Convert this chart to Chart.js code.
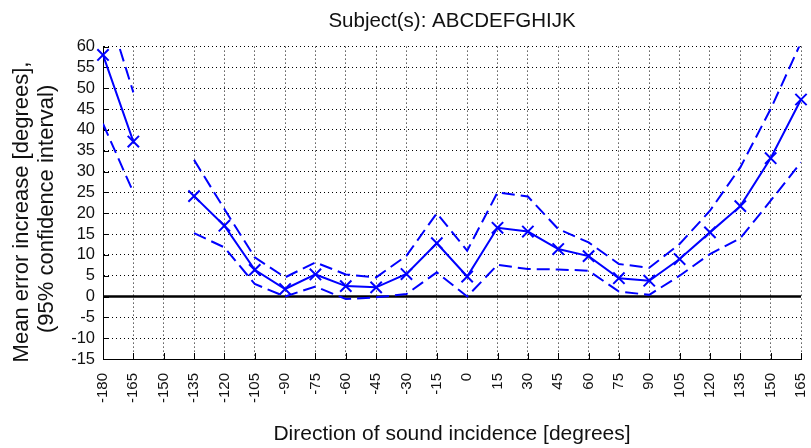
<!DOCTYPE html>
<html lang="en">
<head>
    <meta charset="UTF-8">
    <title>Mean error increase</title>
    <style>
        html, body { margin: 0; padding: 0; background: #fff; }
        #wrap { width: 811px; height: 448px; }
    </style>
</head>
<body>
    <div id="wrap"><canvas id="chartContainer" width="811" height="448"></canvas></div>
<script src="https://cdn.jsdelivr.net/npm/chart.js"></script>
<script>
// directions in degrees
const directions = ['-180', '-165', '-150', '-135', '-120', '-105', '-90', '-75', '-60', '-45', '-30', '-15',
    '0', '15', '30', '45', '60', '75', '90', '105', '120', '135', '150', '165'];

// mean error increase and 95% confidence bounds (null = no data)
const meanIncrease = [58, 37.2, null, 24.1, 17, 6.4, 1.8, 5.3, 2.5, 2.2, 5.4, 12.8,
    4.8, 16.5, 15.6, 11.4, 9.7, 4.4, 3.8, 9.0, 15.4, 21.7, 33.2, 47.3];
const upperBound = [72.5, 49, null, 32.8, 21, 9.4, 4.6, 8.2, 5.3, 4.6, 9.8, 20,
    11, 25, 24, 16.2, 13, 7.8, 6.9, 12.6, 20.6, 31, 45, 61];
const lowerBound = [41.5, 25, null, 15.2, 11.8, 3, 0, 2.4, -0.6, -0.2, 0.6, 5.8,
    0, 7.6, 6.6, 6.5, 6.2, 1.2, 0.4, 5, 10.2, 14, 23, 32.2];

const yMin = -15, yMax = 60, yStep = 5;

document.addEventListener('DOMContentLoaded', function() {
    const ctx = document.getElementById('chartContainer').getContext('2d');
    const blue = '#0000ff';
    const fontFamily = '"Liberation Sans", Arial, Helvetica, sans-serif';

    // black zero line + MATLAB style inward tick marks
    const axisExtras = {
        id: 'axisExtras',
        beforeDatasetsDraw(chart) {
            const {ctx, chartArea, scales: {x, y}} = chart;
            ctx.save();
            ctx.strokeStyle = '#000';
            ctx.lineWidth = 1;
            ctx.beginPath();
            x.ticks.forEach((t, i) => {
                const px = Math.round(x.getPixelForTick(i)) + 0.5;
                ctx.moveTo(px, chartArea.bottom);
                ctx.lineTo(px, chartArea.bottom - 6);
            });
            y.ticks.forEach((t, i) => {
                const py = Math.round(y.getPixelForTick(i)) + 0.5;
                ctx.moveTo(chartArea.left, py);
                ctx.lineTo(chartArea.left + 6, py);
            });
            ctx.stroke();
            const y0 = y.getPixelForValue(0);
            ctx.lineWidth = 2.5;
            ctx.beginPath();
            ctx.moveTo(chartArea.left, y0);
            ctx.lineTo(chartArea.right, y0);
            ctx.stroke();
            ctx.restore();
        }
    };

    const bound = (data) => ({
        data: data,
        borderColor: blue,
        borderWidth: 2,
        borderDash: [13, 6],
        pointRadius: 0,
        fill: false,
        tension: 0,
        clip: 0
    });

    new Chart(ctx, {
        type: 'line',
        data: {
            labels: directions,
            datasets: [
                {
                    data: meanIncrease,
                    borderColor: blue,
                    borderWidth: 2,
                    pointStyle: 'crossRot',
                    pointRadius: 8,
                    pointBorderWidth: 2,
                    pointBorderColor: blue,
                    fill: false,
                    tension: 0,
                    clip: false
                },
                bound(upperBound),
                bound(lowerBound)
            ]
        },
        options: {
            responsive: false,
            animation: false,
            layout: { padding: { left: 0, right: 10, top: 0, bottom: 0 } },
            plugins: {
                legend: { display: false },
                tooltip: { enabled: false },
                title: {
                    display: true,
                    fullSize: false,
                    text: 'Subject(s): ABCDEFGHIJK',
                    color: '#111',
                    font: { family: fontFamily, size: 20.5, weight: 'normal' },
                    padding: { top: 9, bottom: 13 }
                }
            },
            scales: {
                x: {
                    type: 'category',
                    offset: false,
                    grid: { color: '#000', lineWidth: 1, drawTicks: false },
                    border: { display: true, color: '#000', width: 1, dash: [1, 3] },
                    ticks: {
                        autoSkip: false,
                        maxRotation: 90,
                        minRotation: 90,
                        padding: 14,
                        color: '#111',
                        font: { family: fontFamily, size: 15 }
                    },
                    title: {
                        display: true,
                        text: 'Direction of sound incidence [degrees]',
                        color: '#111',
                        font: { family: fontFamily, size: 21 },
                        padding: { top: 0, bottom: 1 }
                    },
                    afterFit: (s) => { s.height = 89; s.paddingLeft = 0; s.paddingRight = 0; }
                },
                y: {
                    min: yMin,
                    max: yMax,
                    grid: { color: '#000', lineWidth: 1, drawTicks: false },
                    border: { display: true, color: '#000', width: 1, dash: [1, 3] },
                    ticks: {
                        stepSize: yStep,
                        autoSkip: false,
                        padding: 8,
                        color: '#111',
                        font: { family: fontFamily, size: 16.5 }
                    },
                    title: {
                        display: true,
                        text: ['Mean error increase [degrees],   ', '(95% confidence interval)  '],
                        color: '#111',
                        font: { family: fontFamily, size: 22, lineHeight: 1.15 },
                        padding: { top: 9, bottom: 0 }
                    },
                    afterFit: (s) => { s.width = 103; s.paddingTop = 0; s.paddingBottom = 0; }
                }
            }
        },
        plugins: [axisExtras]
    });
});
</script>
</body>
</html>
